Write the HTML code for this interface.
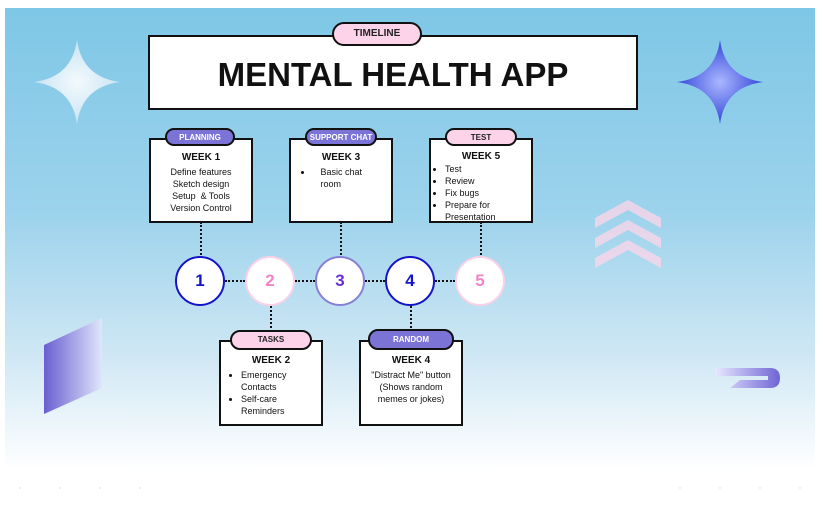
<!DOCTYPE html>
<html><head><meta charset="utf-8"><style>
body{margin:0;width:823px;height:507px;overflow:hidden;background:#fff;font-family:"Liberation Sans",sans-serif;position:relative}
.abs{position:absolute}
.slide{left:5px;top:8px;width:810px;height:462px;background:linear-gradient(#7ec7e6 0%,#9dd3ec 45%,#cfe7f4 75%,#fff 100%)}
.box{position:absolute;background:#fff;border:2px solid #111;box-sizing:border-box;text-align:center;font-size:9px;line-height:12px;color:#111;padding-top:12px}
.box b{display:block;font-size:10px;margin-bottom:2px}
.pill{position:absolute;height:18px;border:2px solid #111;border-radius:10px;box-sizing:border-box;font-size:8px;font-weight:bold;text-align:center;line-height:15px}
.pu{background:#7b74d6;color:#fff}.pk{background:#fcd3e8;color:#222}
.circ{position:absolute;width:50px;height:50px;border-radius:50%;background:#fff;box-sizing:border-box;text-align:center;line-height:46px;font-size:17px;font-weight:bold}
.vd{position:absolute;border-left:2px dotted #111;width:0}
.hd{position:absolute;border-top:2px dotted #111;height:0;top:280px}
ul{margin:0;padding-left:22px;text-align:left}
</style></head><body>
<div class="abs slide"></div>
<svg class="abs" style="left:0;top:0" width="823" height="507">
<defs>
<radialGradient id="s1"><stop offset="0" stop-color="#fff"/><stop offset="1" stop-color="#cfe6f5"/></radialGradient>
<radialGradient id="s2"><stop offset="0" stop-color="#aab6ff"/><stop offset="1" stop-color="#3346d8"/></radialGradient>
<linearGradient id="pg" x1="0" x2="1"><stop offset="0" stop-color="#6a5fd0"/><stop offset="1" stop-color="#dfe6fb"/></linearGradient>
<linearGradient id="rg" x1="0" x2="1"><stop offset="0" stop-color="#e8e8ff"/><stop offset="1" stop-color="#6f64d4"/></linearGradient>
</defs>
<path d="M77 40 Q82 77 120 82 Q82 87 77 124 Q72 87 34 82 Q72 77 77 40Z" fill="url(#s1)" opacity="0.9"/>
<path d="M720 40 Q725 77 763 82 Q725 87 720 124 Q715 87 677 82 Q715 77 720 40Z" fill="url(#s2)"/>
<g fill="#f4d6ea" opacity="0.85">
<path d="M595 218 L628 200 L661 218 L661 228 L628 210 L595 228Z"/>
<path d="M595 238 L628 220 L661 238 L661 248 L628 230 L595 248Z"/>
<path d="M595 258 L628 240 L661 258 L661 268 L628 250 L595 268Z"/>
</g>
<path d="M44 345 L102 318 L102 388 L44 414Z" fill="url(#pg)"/>
<path d="M715 368 H770 Q780 368 780 378 Q780 388 770 388 H730 L740 380 H768 V376 H715Z" fill="url(#rg)"/>
<g fill="#eee"><circle cx="20" cy="488" r="1.2"/><circle cx="60" cy="488" r="1.2"/><circle cx="100" cy="488" r="1.2"/><circle cx="140" cy="488" r="1.2"/><circle cx="680" cy="488" r="1.2"/><circle cx="720" cy="488" r="1.2"/><circle cx="760" cy="488" r="1.2"/><circle cx="800" cy="488" r="1.2"/></g>
</svg>
<div class="abs" style="left:148px;top:35px;width:490px;height:75px;background:#fff;border:2px solid #111;box-sizing:border-box;text-align:center;font-size:33px;font-weight:bold;line-height:75px;color:#111">MENTAL HEALTH APP</div>
<div class="pill pk" style="left:332px;top:22px;width:90px;height:24px;font-size:10px;line-height:20px;border-radius:12px">TIMELINE</div>

<div class="vd" style="left:200px;top:222px;height:33px"></div>
<div class="vd" style="left:340px;top:222px;height:33px"></div>
<div class="vd" style="left:480px;top:222px;height:33px"></div>
<div class="vd" style="left:270px;top:306px;height:34px"></div>
<div class="vd" style="left:410px;top:306px;height:34px"></div>
<div class="hd" style="left:225px;width:20px"></div>
<div class="hd" style="left:295px;width:20px"></div>
<div class="hd" style="left:365px;width:20px"></div>
<div class="hd" style="left:435px;width:20px"></div>

<div class="box" style="left:149px;top:138px;width:104px;height:85px"><b>WEEK 1</b>Define features<br>Sketch design<br>Setup &nbsp;&amp; Tools<br>Version Control</div>
<div class="pill pu" style="left:165px;top:128px;width:70px">PLANNING</div>
<div class="box" style="left:289px;top:138px;width:104px;height:85px"><b>WEEK 3</b><ul><li>&nbsp;&nbsp;&nbsp;Basic chat<br>&nbsp;&nbsp;&nbsp;room</li></ul></div>
<div class="pill pu" style="left:305px;top:128px;width:72px">SUPPORT CHAT</div>
<div class="box" style="left:429px;top:138px;width:104px;height:85px;padding-top:11px;line-height:12px"><b style="margin-bottom:0">WEEK 5</b><ul style="padding-left:14px"><li>Test</li><li>Review</li><li>Fix bugs</li><li>Prepare for Presentation</li></ul></div>
<div class="pill pk" style="left:445px;top:128px;width:72px">TEST</div>

<div class="circ" style="left:175px;top:256px;border:2px solid #1414c8;color:#1414c8">1</div>
<div class="circ" style="left:245px;top:256px;border:2px solid #f9d2e8;color:#f483c8">2</div>
<div class="circ" style="left:315px;top:256px;border:2px solid #8680d6;color:#6a2fd8">3</div>
<div class="circ" style="left:385px;top:256px;border:2px solid #1414c8;color:#1414c8">4</div>
<div class="circ" style="left:455px;top:256px;border:2px solid #f9d2e8;color:#f483c8">5</div>

<div class="box" style="left:219px;top:340px;width:104px;height:86px;padding-top:13px"><b>WEEK 2</b><ul style="padding-left:20px"><li>Emergency Contacts</li><li>Self-care Reminders</li></ul></div>
<div class="pill pk" style="left:230px;top:330px;width:82px;height:20px">TASKS</div>
<div class="box" style="left:359px;top:340px;width:104px;height:86px;padding-top:13px"><b>WEEK 4</b>"Distract Me" button<br>(Shows random<br>memes or jokes)</div>
<div class="pill pu" style="left:368px;top:329px;width:86px;height:21px;line-height:17px">RANDOM</div>
</body></html>
